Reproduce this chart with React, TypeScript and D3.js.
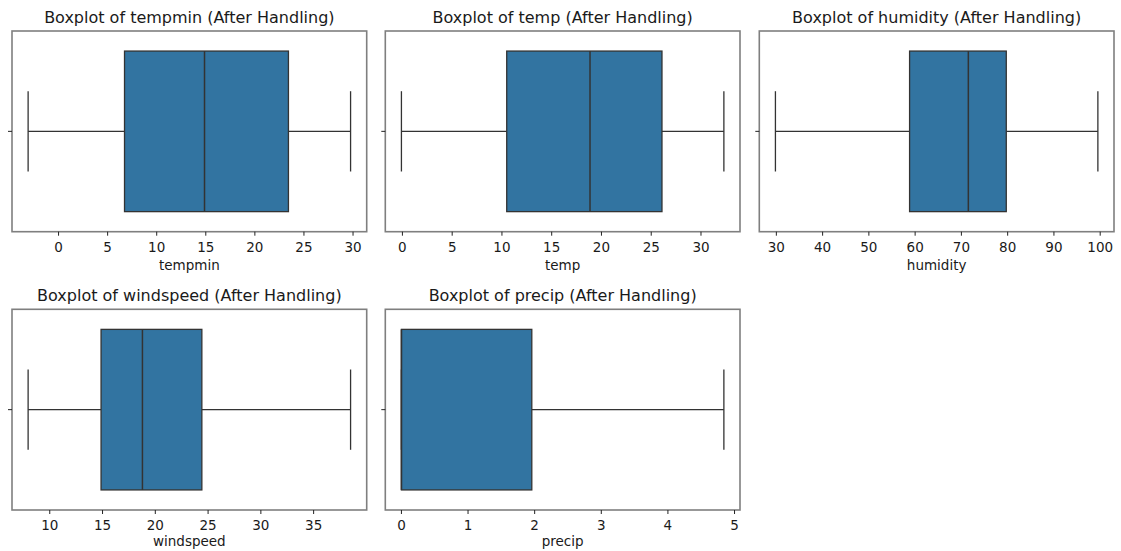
import React from 'react';
import * as d3 from 'd3';

// five-number summaries (whisker low, q1, median, q3, whisker high)
const variables = ['tempmin', 'temp', 'humidity', 'windspeed', 'precip'];
const whiskerLow = [-3.1, -0.1, 29.8, 7.95, 0];
const q1 = [6.72, 10.48, 58.8, 14.86, 0];
const median = [14.87, 18.85, 71.5, 18.78, 0];
const q3 = [23.42, 26.08, 79.7, 24.41, 1.957];
const whiskerHigh = [29.75, 32.3, 99.5, 38.5, 4.84];
const tickValues = [
  [0, 5, 10, 15, 20, 25, 30],
  [0, 5, 10, 15, 20, 25, 30],
  [30, 40, 50, 60, 70, 80, 90, 100],
  [10, 15, 20, 25, 30, 35],
  [0, 1, 2, 3, 4, 5],
];

const W = 1121;
const H = 551;
const colLeft = [12, 385.3, 759.3];
const panelW = 354.7;
const rowTop = [31, 309.3];
const panelH = 200.7;

const FONT = '"DejaVu Sans", sans-serif';
const BOX_FILL = '#3274a1';
const LINE = '#333333';

const Panel = ({ i }: { i: number }) => {
  const col = i % 3;
  const row = Math.floor(i / 3);
  const left = colLeft[col];
  const top = rowTop[row];
  const lo = whiskerLow[i];
  const hi = whiskerHigh[i];
  const pad = (hi - lo) * 0.05;

  const x = d3.scaleLinear().domain([lo - pad, hi + pad]).range([0, panelW]);
  const y = d3.scaleLinear().domain([-0.5, 0.5]).range([0, panelH]);

  const yc = y(0);
  return (
    <g transform={`translate(${left},${top})`}>
      <text x={panelW / 2} y={-8.5} textAnchor="middle" fontSize={16} fill="#1a1a1a" fontFamily={FONT}>
        {`Boxplot of ${variables[i]} (After Handling)`}
      </text>

      {/* whiskers */}
      <line x1={x(lo)} x2={x(q1[i])} y1={yc} y2={yc} stroke={LINE} strokeWidth={1.3} />
      <line x1={x(q3[i])} x2={x(hi)} y1={yc} y2={yc} stroke={LINE} strokeWidth={1.3} />
      <line x1={x(lo)} x2={x(lo)} y1={y(-0.2)} y2={y(0.2)} stroke={LINE} strokeWidth={1.3} />
      <line x1={x(hi)} x2={x(hi)} y1={y(-0.2)} y2={y(0.2)} stroke={LINE} strokeWidth={1.3} />

      {/* box */}
      <rect
        x={x(q1[i])}
        y={y(-0.4)}
        width={Math.max(0, x(q3[i]) - x(q1[i]))}
        height={y(0.4) - y(-0.4)}
        fill={BOX_FILL}
        stroke={LINE}
        strokeWidth={1.3}
      />
      <line x1={x(median[i])} x2={x(median[i])} y1={y(-0.4)} y2={y(0.4)} stroke={LINE} strokeWidth={1.5} />

      {/* frame */}
      <rect x={0} y={0} width={panelW} height={panelH} fill="none" stroke="#7f7f7f" strokeWidth={1.6} />

      {/* y tick */}
      <line x1={-4} x2={0} y1={yc} y2={yc} stroke="#222" strokeWidth={1} />

      {/* x ticks */}
      {tickValues[i].map((t) => (
        <g key={t} transform={`translate(${x(t)},${panelH})`}>
          <line y1={0} y2={4} stroke="#222" strokeWidth={1} />
          <text y={row === 0 ? 20.6 : 19.5} textAnchor="middle" fontSize={13.5} fill="#1a1a1a" fontFamily={FONT}>
            {t}
          </text>
        </g>
      ))}
      <text x={panelW / 2} y={panelH + (row === 0 ? 38.3 : 36)} textAnchor="middle" fontSize={13.5} fill="#1a1a1a" fontFamily={FONT}>
        {variables[i]}
      </text>
    </g>
  );
};

export default function App() {
  return (
    <svg width={W} height={H} style={{ position: 'absolute', left: 0, top: 0, background: '#fff' }}>
      <rect width={W} height={H} fill="#fff" />
      {variables.map((v, i) => (
        <Panel key={v} i={i} />
      ))}
    </svg>
  );
}
